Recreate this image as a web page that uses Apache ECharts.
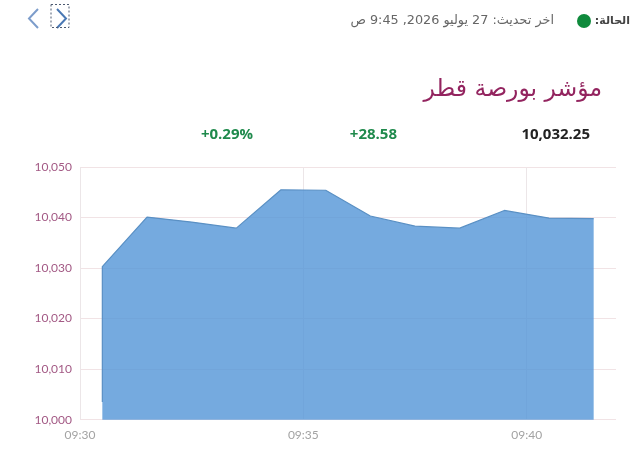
<!DOCTYPE html>
<html>
<head>
<meta charset="utf-8">
<style>html,body{margin:0;background:#fff}</style>
</head>
<body>
<div id="container" dir="rtl" style="width:640px;height:456px"></div>
<script src="https://cdn.jsdelivr.net/npm/echarts@6/dist/echarts.min.js"></script>
<script>
// minutes since midnight, first point is repeated (the line starts low on the left edge)
var minutes = [570.5, 570.5, 571.5, 572.5, 573.5, 574.5, 575.5, 576.5, 577.5, 578.5, 579.5, 580.5, 581.5];
var values = [10003.5, 10030.3, 10040.1, 10039.1, 10037.9, 10045.5, 10045.4, 10040.3, 10038.3, 10037.9, 10041.4, 10039.9, 10039.8];
var titleText = 'مؤشر بورصة قطر';
var statusText = 'الحالة:';
var updateText = 'اخر تحديث: 27 يوليو 2026, 9:45 ص';
var lastValue = '10,032.25';
var changeValue = '+28.58';
var changePct = '+0.29%';

var seriesData = minutes.map(function (m, i) { return [m, values[i]]; });

function two(n) { return (n < 10 ? '0' : '') + n; }
// canvas runs rtl for the arabic text, keep the plus sign in front of the numbers
function ltr(s) { return '\u200E' + s; }

var dom = document.getElementById('container');
var myChart = echarts.init(dom, null, { renderer: 'canvas' });
var arFont = '"DejaVu Sans", sans-serif';
var numFont = '"Open Sans", sans-serif';

var option = {
    animation: false,
    grid: { left: 80, top: 167, width: 536, height: 252.7 },
    xAxis: {
        type: 'value',
        min: 570,
        max: 582,
        interval: 5,
        axisLine: { show: false },
        axisTick: { show: false },
        splitLine: { show: true, showMaxLine: false, lineStyle: { color: '#ece6e8', width: 1 } },
        axisLabel: {
            showMaxLabel: false,
            margin: 9,
            color: '#a3a3a3',
            fontFamily: 'Lato',
            fontSize: 12,
            formatter: function (v) { return two(Math.floor(v / 60)) + ':' + two(v % 60); }
        }
    },
    yAxis: {
        type: 'value',
        min: 10000,
        max: 10050,
        interval: 10,
        axisLine: { show: false },
        axisTick: { show: false },
        splitLine: { lineStyle: { color: '#f1e3e5', width: 1 } },
        axisLabel: {
            margin: 8,
            color: '#a35a85',
            fontFamily: 'Lato',
            fontSize: 12,
            padding: [2, 0, 0, 0],
            formatter: function (v) { return echarts.format.addCommas(v); }
        }
    },
    series: [{
        type: 'line',
        data: seriesData,
        showSymbol: false,
        silent: true,
        lineStyle: { color: '#5a90c4', width: 1.2 },
        areaStyle: { color: '#5295d7', opacity: 0.8, origin: 'start' }
    }],
    graphic: [
        { type: 'polyline', shape: { points: [[38, 9], [29, 18.5], [38, 28]] }, style: { fill: 'none', stroke: '#7d9dcb', lineWidth: 2 } },
        { type: 'polyline', shape: { points: [[57, 9], [66, 18.5], [57, 28]] }, style: { fill: 'none', stroke: '#4a78b4', lineWidth: 2 } },
        { type: 'rect', shape: { x: 51, y: 4.5, width: 18, height: 23 }, style: { fill: 'none', stroke: '#4d5a70', lineWidth: 1, lineDash: [2, 2] } },
        { type: 'circle', shape: { cx: 584, cy: 21, r: 7 }, style: { fill: '#0f8a3c' } },
        { type: 'text', style: { x: 630, y: 21, text: statusText, align: 'right', verticalAlign: 'middle', fill: '#444', font: 'bold 11px ' + arFont } },
        { type: 'text', style: { x: 554, y: 21, text: updateText, align: 'right', verticalAlign: 'middle', fill: '#666', font: '12.8px ' + arFont } },
        { type: 'text', style: { x: 602, y: 90, text: titleText, align: 'right', verticalAlign: 'middle', fill: '#93245f', font: '23.5px ' + arFont } },
        { type: 'text', style: { x: 590, y: 135, text: ltr(lastValue), align: 'right', verticalAlign: 'middle', fill: '#222', font: 'bold 15px ' + numFont } },
        { type: 'text', style: { x: 397, y: 135, text: ltr(changeValue), align: 'right', verticalAlign: 'middle', fill: '#1f8a4c', font: 'bold 15px ' + numFont } },
        { type: 'text', style: { x: 253, y: 135, text: ltr(changePct), align: 'right', verticalAlign: 'middle', fill: '#1f8a4c', font: 'bold 15px ' + numFont } }
    ]
};
myChart.setOption(option);
</script>
</body>
</html>
